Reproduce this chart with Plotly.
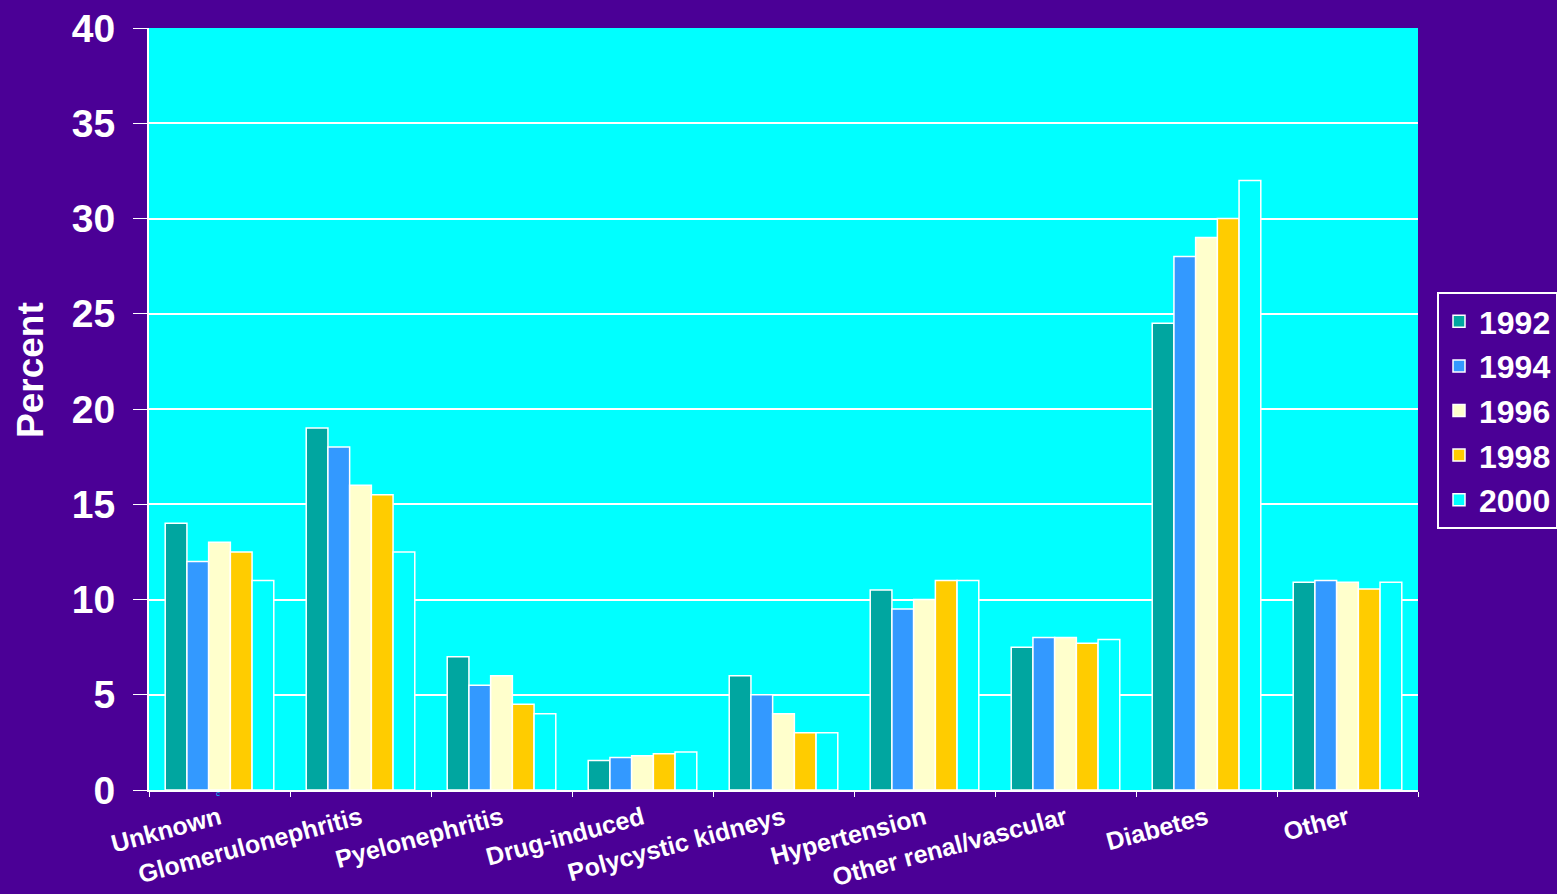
import plotly.graph_objects as go

categories = ["Unknown", "Glomerulonephritis", "Pyelonephritis", "Drug-induced",
              "Polycystic kidneys", "Hypertension", "Other renal/vascular",
              "Diabetes", "Other"]
years = ["1992", "1994", "1996", "1998", "2000"]
v1992 = [14.0, 19.0, 7.0, 1.55, 6.0, 10.5, 7.5, 24.5, 10.9]
v1994 = [12.0, 18.0, 5.5, 1.7, 5.0, 9.5, 8.0, 28.0, 11.0]
v1996 = [13.0, 16.0, 6.0, 1.8, 4.0, 10.0, 8.0, 29.0, 10.9]
v1998 = [12.5, 15.5, 4.5, 1.9, 3.0, 11.0, 7.7, 30.0, 10.55]
v2000 = [11.0, 12.5, 4.0, 2.0, 3.0, 11.0, 7.9, 32.0, 10.9]
series = [v1992, v1994, v1996, v1998, v2000]
colors = ["#00A6A0", "#3399FF", "#FFFFCC", "#FFCC00", "#00FFFF"]

FONT = "Arial, Liberation Sans, sans-serif"
PURPLE = "#4B0096"

L, R, T, B = 149, 139, 28, 104
PW, PH = 1557 - L - R, 894 - T - B

fig = go.Figure()
for yr, vals, col in zip(years, series, colors):
    fig.add_trace(go.Bar(
        x=categories, y=vals, name=yr, legendgroup=yr,
        marker=dict(color=col, line=dict(color="white", width=1.5)),
    ))

fig.update_layout(
    width=1557, height=894,
    paper_bgcolor=PURPLE, plot_bgcolor="#00FFFF",
    margin=dict(l=L, r=R, t=T, b=B, autoexpand=False),
    barmode="group", bargap=0.23, bargroupgap=0,
    font=dict(family=FONT, color="white"),
    showlegend=True,
    legend=dict(
        x=(1437 - L) / PW, xanchor="left", y=(T + PH - 292) / PH, yanchor="top",
        bgcolor=PURPLE, bordercolor="white", borderwidth=2,
        font=dict(size=32, color="white", family=FONT, weight="bold"),
        tracegroupgap=0,
    ),
    xaxis=dict(
        showgrid=False, showline=True, linecolor="white", linewidth=2,
        ticks="outside", tickson="boundaries", ticklen=5, tickcolor="white",
        tickangle=-15, automargin=False, ticklabelstandoff=2,
        tickfont=dict(size=25, color="white", family=FONT, weight="bold"),
    ),
    yaxis=dict(
        range=[0, 40], dtick=5, showgrid=True, gridcolor="white", gridwidth=1.5,
        showline=True, linecolor="white", linewidth=2,
        ticks="outside", ticklen=14, tickcolor="white",
        ticklabelstandoff=10, automargin=False,
        tickfont=dict(size=39, color="white", family=FONT, weight="bold"),
        zeroline=False,
    ),
)

fig.add_annotation(x=(30 - L) / PW, y=(T + PH - 370) / PH, xref="paper", yref="paper",
                   text="Percent", textangle=-90, showarrow=False,
                   xanchor="center", yanchor="middle",
                   font=dict(size=37, color="white", family=FONT, weight="bold"))
fig.add_annotation(x=(214 - L) / PW, y=-(800 - T - PH) / PH, xref="paper", yref="paper",
                   text="c", showarrow=False,
                   font=dict(size=8, color="#00CCFF", family=FONT))

fig.write_html("out.html", config={"displayModeBar": False},
               post_script="document.body.style.margin='0';document.body.style.overflow='hidden';")
